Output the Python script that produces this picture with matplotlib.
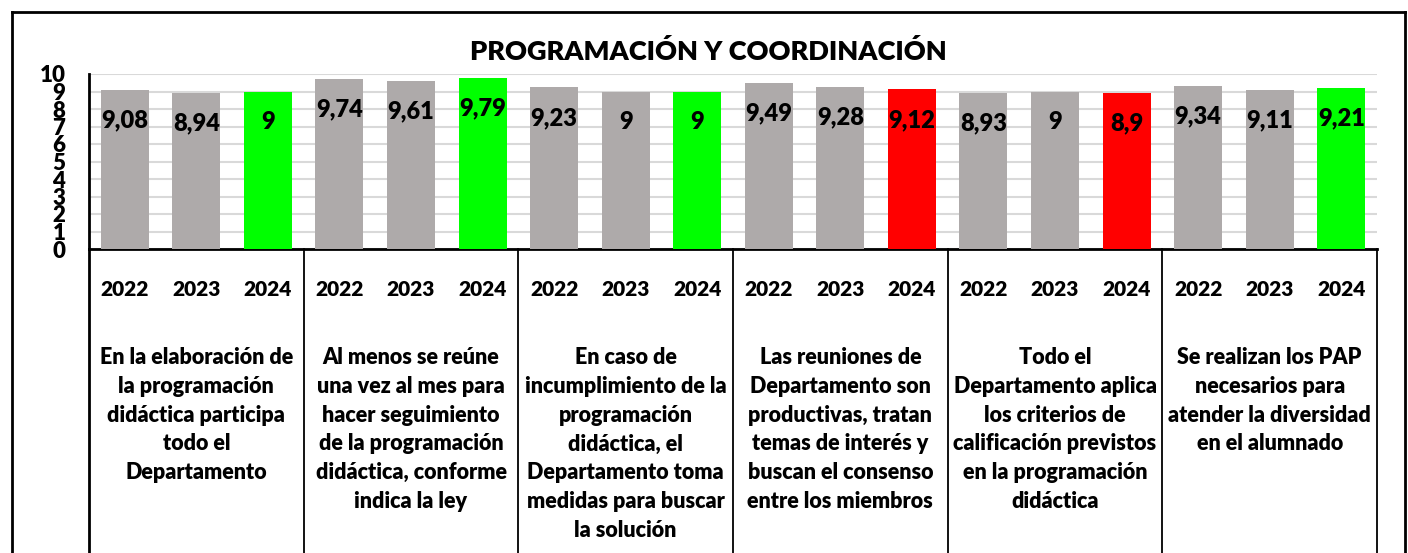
import matplotlib.pyplot as plt
from matplotlib.lines import Line2D
from matplotlib.transforms import blended_transform_factory

plt.rcParams['font.family'] = ['Lato', 'DejaVu Sans']
BOLD = 800

years = ['2022', '2023', '2024']
questions = [
    "En la elaboración de\nla programación\ndidáctica participa\ntodo el\nDepartamento",
    "Al menos se reúne\nuna vez al mes para\nhacer seguimiento\nde la programación\ndidáctica, conforme\nindica la ley",
    "En caso de\nincumplimiento de la\nprogramación\ndidáctica, el\nDepartamento toma\nmedidas para buscar\nla solución",
    "Las reuniones de\nDepartamento son\nproductivas, tratan\ntemas de interés y\nbuscan el consenso\nentre los miembros",
    "Todo el\nDepartamento aplica\nlos criterios de\ncalificación previstos\nen la programación\ndidáctica",
    "Se realizan los PAP\nnecesarios para\natender la diversidad\nen el alumnado",
]
scores = [
    [9.08, 8.94, 9],
    [9.74, 9.61, 9.79],
    [9.23, 9, 9],
    [9.49, 9.28, 9.12],
    [8.93, 9, 8.9],
    [9.34, 9.11, 9.21],
]
# colour of the 2024 bar in each group
last_colors = ['#00FF00', '#00FF00', '#00FF00', '#FF0000', '#FF0000', '#00FF00']
gray = '#AEAAAA'

W, H = 1408, 553
fig = plt.figure(figsize=(W / 100, H / 100), dpi=100)
ax = fig.add_axes([89 / W, 1 - 249 / H, (1377 - 89) / W, (249 - 74) / H])

xs, vals, cols = [], [], []
for g, row in enumerate(scores):
    for i, v in enumerate(row):
        xs.append(g * 3 + i)
        vals.append(v)
        cols.append(last_colors[g] if i == 2 else gray)

ax.bar(xs, vals, width=0.67, color=cols, zorder=3)
for x, v in zip(xs, vals):
    txt = f"{v:g}".replace('.', ',')
    ax.annotate(txt, (x, v), xytext=(0, -22), textcoords='offset points',
                ha='center', va='center', fontsize=17, fontweight=BOLD, zorder=4)

n = len(xs)
ax.set_xlim(-0.5, n - 0.5)
ax.set_ylim(0, 10)
ax.set_yticks(range(0, 11))
ax.tick_params(axis='y', length=0, labelsize=16, pad=17)
for lab in ax.get_yticklabels():
    lab.set_fontweight(BOLD)
ax.set_xticks([])
ax.grid(axis='y', color='#D9D9D9', linewidth=1.5, zorder=0)
for s in ['top', 'right']:
    ax.spines[s].set_visible(False)
ax.spines['left'].set_linewidth(2)
ax.spines['bottom'].set_linewidth(2)

# category axis below the plot
tr = blended_transform_factory(ax.transData, fig.transFigure)
y_axis = 1 - 249 / H
for b in [-0.5] + [g * 3 + 2.5 for g in range(len(scores))]:
    lw = 2 if b == -0.5 else 1.3
    fig.add_artist(Line2D([b, b], [0, y_axis], transform=tr, color='black', lw=lw))
for x in xs:
    fig.text(x, 1 - 290 / H, years[x % 3], transform=tr, ha='center', va='center',
             fontsize=15, fontweight=BOLD)
for g, q in enumerate(questions):
    fig.text(g * 3 + 1, 1 - 347 / H, q, transform=tr, ha='center', va='top',
             fontsize=15.5, fontweight=BOLD, linespacing=1.46)

fig.text(708 / W, 1 - 51 / H, 'PROGRAMACIÓN Y COORDINACIÓN', ha='center', va='center',
         fontsize=19.5, fontweight=BOLD)

# outer chart border
bx0, bx1, by1 = 12 / W, 1405 / W, 1 - 12 / H
for xd, yd in [([bx0, bx0], [0, by1]), ([bx0, bx1], [by1, by1]), ([bx1, bx1], [by1, 0])]:
    fig.add_artist(Line2D(xd, yd, transform=fig.transFigure, color='black', lw=2))

fig.savefig('out.png', dpi=100)
